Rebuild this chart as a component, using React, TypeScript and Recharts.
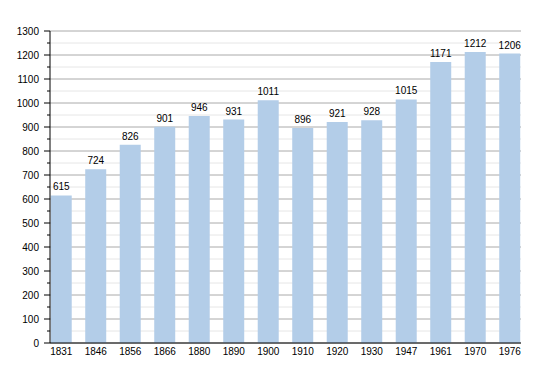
import { Bar, BarChart, CartesianGrid, LabelList, XAxis, YAxis } from 'recharts';

const years = ['1831', '1846', '1856', '1866', '1880', '1890', '1900', '1910', '1920', '1930', '1947', '1961', '1970', '1976'];
const population = [615, 724, 826, 901, 946, 931, 1011, 896, 921, 928, 1015, 1171, 1212, 1206];
const majorTicks = [0, 100, 200, 300, 400, 500, 600, 700, 800, 900, 1000, 1100, 1200, 1300];
const minorTicks = [50, 150, 250, 350, 450, 550, 650, 750, 850, 950, 1050, 1150, 1250];

const data = years.map((year, i) => ({ year, value: population[i] }));
const allTicks = [...majorTicks, ...minorTicks].sort((a, b) => a - b);

const FONT = '"Liberation Sans", Arial, sans-serif';

const YTick = (props: any) => {
    const { y, payload } = props;
    const major = payload.value % 100 === 0;
    return (
        <g>
            <line x1={50 - (major ? 6 : 3)} x2={50} y1={y} y2={y} stroke="#000" strokeWidth={1} />
            {major && (
                <text x={39} y={y} dy={3.5} textAnchor="end" fontSize={10} fill="#000" fontFamily={FONT}>
                    {payload.value}
                </text>
            )}
        </g>
    );
};

const App = () => {
    return (
        <div style={{ position: 'absolute', left: 0, top: 0, background: '#fff' }}>
            <BarChart
                width={550}
                height={373}
                data={data}
                margin={{ top: 31, right: 29, left: 0, bottom: 0 }}
                barCategoryGap="19.5%"
            >
                <CartesianGrid vertical={false} horizontalValues={minorTicks} stroke="#e6e6e6" />
                <CartesianGrid vertical={false} horizontalValues={majorTicks} stroke="#aaaaaa" />
                <XAxis
                    dataKey="year"
                    height={30}
                    padding={{ left: -6, right: -6 }}
                    tickLine={false}
                    tickSize={0}
                    tickMargin={5}
                    axisLine={{ stroke: '#000' }}
                    tick={{ fontSize: 10, fill: '#000', fontFamily: FONT }}
                    interval={0}
                />
                <YAxis
                    width={50}
                    domain={[0, 1300]}
                    ticks={allTicks}
                    interval={0}
                    tickLine={false}
                    axisLine={{ stroke: '#000' }}
                    tick={<YTick />}
                />
                <Bar dataKey="value" fill="#b3cde8" isAnimationActive={false}>
                    <LabelList dataKey="value" position="top" offset={5} fontSize={10} fill="#000" fontFamily={FONT} />
                </Bar>
            </BarChart>
        </div>
    );
};

export default App;
